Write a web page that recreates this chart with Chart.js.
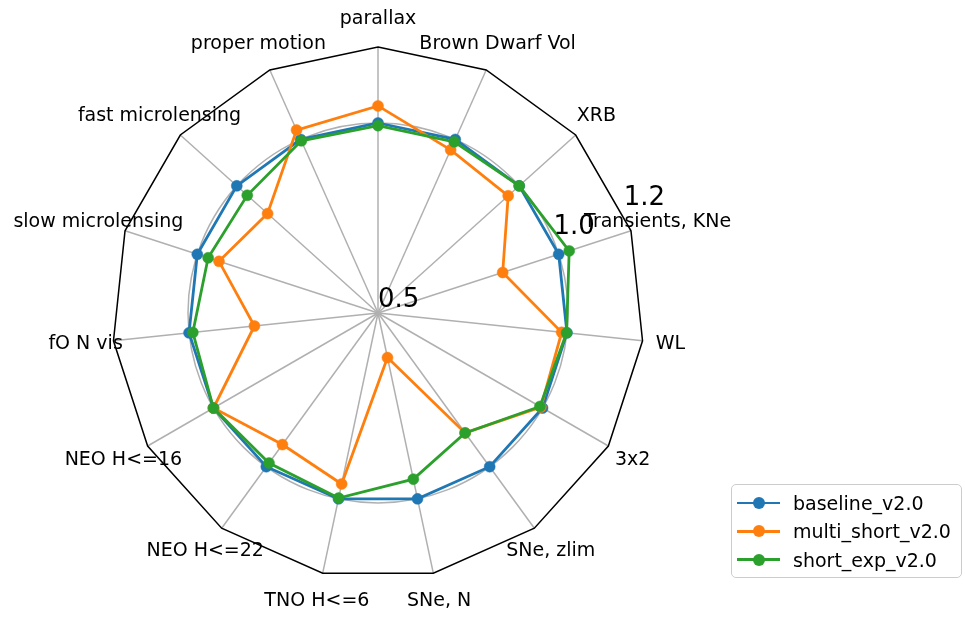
<!DOCTYPE html>
<html>
<head>
<meta charset="utf-8">
<script src="https://cdn.jsdelivr.net/npm/chart.js@4/dist/chart.umd.min.js"></script>
<style>
  html, body { margin: 0; padding: 0; background: #fff; }
  #wrap { position: relative; width: 965px; height: 623px; }
  #c { position: absolute; left: 0; top: 0; }
  #legend {
    position: absolute; left: 731px; top: 484px; width: 229px; height: 92px;
    border: 1.5px solid #cccccc; border-radius: 5px; background: rgba(255,255,255,0.8);
    font-family: "DejaVu Sans", sans-serif; font-size: 19px; color: #000;
  }
  .row { position: absolute; left: 0; height: 28px; width: 100%; }
  .ln { position: absolute; left: 5px; width: 43px; height: 2.8px; top: 12.6px; }
  .dot { position: absolute; left: 20.5px; width: 12px; height: 12px; top: 8px; border-radius: 50%; }
  .tx { position: absolute; left: 61px; top: 0; line-height: 28px; white-space: nowrap; }
</style>
</head>
<body>
<div id="wrap">
  <canvas id="c" width="965" height="623"></canvas>
  <div id="legend"></div>
</div>
<script>
const categories = ["parallax", "Brown Dwarf Vol", "XRB", "Transients, KNe", "WL", "3x2",
  "SNe, zlim", "SNe, N", "TNO H<=6", "NEO H<=22", "NEO H<=16", "fO N vis",
  "slow microlensing", "fast microlensing", "proper motion"];
const seriesNames = ["baseline_v2.0", "multi_short_v2.0", "short_exp_v2.0"];
const baselineValues   = [1.0, 1.0, 1.0, 1.0, 1.0, 1.0, 1.0, 1.0, 1.0, 1.0, 1.0, 1.0, 1.0, 1.0, 1.0];
const multiShortValues = [1.045, 0.970, 0.961, 0.845, 0.986, 0.995, 0.890, 0.620, 0.960, 0.928, 1.0, 0.827, 0.940, 0.891, 1.027];
const shortExpValues   = [0.993, 0.993, 1.0, 1.029, 0.999, 0.992, 0.890, 0.947, 0.998, 0.988, 1.0, 0.990, 0.970, 0.963, 0.996];
const tickValues = [0.5, 1.0, 1.2];
const tickLabels = ["0.5", "1.0", "1.2"];
const colors = ["#1f77b4", "#ff7f0e", "#2ca02c"];
const seriesValues = [baselineValues, multiShortValues, shortExpValues];

const FONT = '"DejaVu Sans", sans-serif';

const framePlugin = {
  id: 'frame',
  beforeDatasetsDraw(chart) {
    const s = chart.scales.r;
    const ctx = chart.ctx;
    const d = s.getDistanceFromCenterForValue(tickValues[tickValues.length - 1]);
    ctx.save();
    ctx.beginPath();
    for (let i = 0; i < categories.length; i++) {
      const p = s.getPointPosition(i, d);
      if (i === 0) ctx.moveTo(p.x, p.y); else ctx.lineTo(p.x, p.y);
    }
    ctx.closePath();
    ctx.strokeStyle = '#000';
    ctx.lineWidth = 1.5;
    ctx.stroke();
    ctx.restore();
  },
  afterDraw(chart) {
    const s = chart.scales.r;
    const ctx = chart.ctx;
    ctx.save();
    ctx.fillStyle = '#000';
    // category labels
    ctx.font = '19px ' + FONT;
    ctx.textAlign = 'center';
    ctx.textBaseline = 'middle';
    const outer = s.getDistanceFromCenterForValue(tickValues[tickValues.length - 1]);
    for (let i = 0; i < categories.length; i++) {
      const p = s.getPointPosition(i, outer + 28);
      ctx.fillText(categories[i], p.x, p.y);
    }
    // radial tick labels
    const fs = 26;
    ctx.font = fs + 'px ' + FONT;
    ctx.textAlign = 'left';
    ctx.textBaseline = 'alphabetic';
    const ang = 22.5 * Math.PI / 180;
    for (let k = 0; k < tickValues.length; k++) {
      const d = s.getDistanceFromCenterForValue(tickValues[k]);
      const x = s.xCenter + d * Math.cos(ang);
      const y = s.yCenter - d * Math.sin(ang);
      ctx.fillText(tickLabels[k], x, y - 0.236 * fs);
    }
    ctx.restore();
  }
};

const datasets = seriesNames.map((name, i) => ({
  label: name,
  data: seriesValues[i],
  borderColor: colors[i],
  backgroundColor: colors[i],
  pointBackgroundColor: colors[i],
  pointBorderColor: colors[i],
  borderWidth: 2.8,
  pointRadius: 5.5,
  pointBorderWidth: 0.5,
  fill: false,
  tension: 0,
  order: seriesNames.length - 1 - i
}));

new Chart(document.getElementById('c'), {
  type: 'radar',
  data: { labels: categories, datasets: datasets },
  options: {
    responsive: false,
    animation: false,
    devicePixelRatio: 1,
    layout: { padding: { left: 112, top: 47, right: 321, bottom: 44 } },
    plugins: { legend: { display: false }, tooltip: { enabled: false } },
    scales: {
      r: {
        min: tickValues[0],
        max: tickValues[tickValues.length - 1],
        afterBuildTicks: (scale) => { scale.ticks = tickValues.map(v => ({ value: v })); },
        ticks: { display: false },
        pointLabels: { display: false },
        angleLines: { display: true, color: '#b0b0b0', lineWidth: 1.5 },
        grid: {
          circular: true,
          lineWidth: 1.5,
          color: (c) => (c.tick && c.tick.value >= tickValues[tickValues.length - 1]) ? 'rgba(0,0,0,0)' : '#b0b0b0'
        }
      }
    }
  },
  plugins: [framePlugin]
});

// legend (HTML)
const leg = document.getElementById('legend');
seriesNames.forEach((name, i) => {
  const row = document.createElement('div');
  row.className = 'row';
  row.style.top = (4 + i * 28.3) + 'px';
  row.innerHTML = '<div class="ln" style="background:' + colors[i] + '"></div>' +
    '<div class="dot" style="background:' + colors[i] + '"></div>' +
    '<div class="tx">' + name + '</div>';
  leg.appendChild(row);
});
</script>
</body>
</html>
